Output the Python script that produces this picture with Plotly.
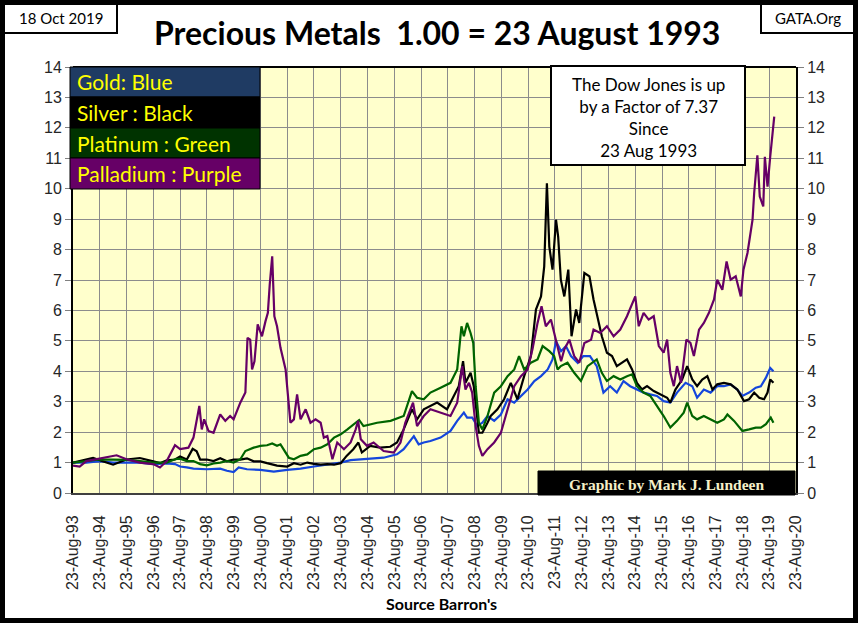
import pandas as pd
import plotly.graph_objects as go

# values, x in decimal years, y = price / price on 23 Aug 1993
gold_t = [1993.64, 1994.14, 1994.64, 1995.14, 1995.64, 1996.14, 1996.64, 1997.14, 1997.45, 1997.64,
          1997.89, 1998.14, 1998.64, 1999.14, 1999.39, 1999.64, 1999.83, 2000.14, 2000.64, 2001.14,
          2001.64, 2001.89, 2002.14, 2002.64, 2003.14, 2003.64, 2004.01, 2004.39, 2004.74, 2005.24,
          2005.74, 2005.99, 2006.37, 2006.55, 2006.74, 2006.99, 2007.37, 2007.74, 2007.99, 2008.24,
          2008.36, 2008.55, 2008.74, 2008.93, 2009.12, 2009.37, 2009.62, 2009.87, 2010.12, 2010.37,
          2010.62, 2010.87, 2011.12, 2011.37, 2011.55, 2011.68, 2011.87, 2012.05, 2012.24, 2012.49,
          2012.7, 2012.95, 2013.2, 2013.45, 2013.7, 2013.95, 2014.2, 2014.45, 2014.7, 2014.95,
          2015.2, 2015.45, 2015.7, 2015.95, 2016.2, 2016.52, 2016.77, 2016.95, 2017.2, 2017.45,
          2017.7, 2017.95, 2018.2, 2018.45, 2018.64, 2018.89, 2019.14, 2019.33, 2019.52, 2019.68,
          2019.8]
gold_v = [1.0, 1.0, 1.05, 1.0, 1.0, 1.0, 0.95, 0.97, 0.95, 0.87,
          0.84, 0.80, 0.78, 0.80, 0.73, 0.69, 0.84, 0.78, 0.76, 0.70,
          0.76, 0.78, 0.80, 0.87, 0.93, 1.0, 1.08, 1.11, 1.13, 1.16,
          1.27, 1.44, 1.87, 1.60, 1.66, 1.71, 1.82, 2.04, 2.37, 2.64,
          2.48, 2.48, 2.20, 2.31, 2.53, 2.37, 2.58, 3.08, 2.97, 3.19,
          3.40, 3.68, 3.84, 4.06, 4.39, 4.99, 4.66, 4.83, 4.50, 4.28,
          4.50, 4.50, 4.17, 3.30, 3.51, 3.30, 3.68, 3.51, 3.40, 3.30,
          3.24, 3.19, 3.02, 2.97, 3.30, 3.62, 3.51, 3.13, 3.40, 3.30,
          3.51, 3.51, 3.57, 3.40, 3.19, 3.30, 3.46, 3.51, 3.79, 4.11,
          4.00]

silver_t = [1993.64, 1994.14, 1994.39, 1994.89, 1995.14, 1995.64, 1996.14, 1996.64, 1996.89, 1997.14,
            1997.45, 1997.64, 1997.89, 1998.11, 1998.26, 1998.39, 1998.64, 1998.89, 1999.14, 1999.39,
            1999.64, 1999.89, 2000.14, 2000.39, 2000.64, 2000.89, 2001.26, 2001.64, 2001.89, 2002.14,
            2002.39, 2002.64, 2002.89, 2003.14, 2003.39, 2003.64, 2003.86, 2004.11, 2004.3, 2004.43,
            2004.74, 2005.11, 2005.49, 2005.74, 2005.99, 2006.3, 2006.49, 2006.74, 2006.99, 2007.24,
            2007.61, 2007.86, 2008.05, 2008.21, 2008.3, 2008.49, 2008.61, 2008.8, 2008.93, 2009.12,
            2009.24, 2009.49, 2009.74, 2009.99, 2010.24, 2010.49, 2010.74, 2010.93, 2011.12, 2011.24,
            2011.34, 2011.43, 2011.55, 2011.68, 2011.76, 2011.86, 2011.99, 2012.14, 2012.26, 2012.43,
            2012.55, 2012.74, 2012.93, 2013.08, 2013.2, 2013.39, 2013.58, 2013.77, 2013.95, 2014.14,
            2014.33, 2014.52, 2014.7, 2014.89, 2015.08, 2015.33, 2015.58, 2015.83, 2015.95, 2016.14,
            2016.39, 2016.58, 2016.77, 2016.95, 2017.14, 2017.33, 2017.52, 2017.7, 2017.95, 2018.2,
            2018.45, 2018.7, 2018.89, 2019.08, 2019.27, 2019.45, 2019.58, 2019.68, 2019.8]
silver_v = [1.0, 1.10, 1.15, 1.0, 0.93, 1.10, 1.15, 1.04, 0.98, 1.07,
            1.10, 1.20, 1.10, 1.45, 1.37, 1.10, 1.10, 1.05, 1.14, 1.04,
            1.10, 1.10, 1.14, 1.04, 1.04, 0.98, 0.90, 0.87, 0.98, 0.93,
            1.0, 0.96, 0.93, 0.95, 0.93, 0.98, 1.22, 1.44, 1.66, 1.33,
            1.55, 1.49, 1.52, 1.66, 2.09, 2.75, 2.42, 2.75, 2.86, 2.97,
            2.75, 3.19, 3.51, 4.33, 3.62, 3.95, 3.51, 1.98, 1.98, 2.31,
            2.53, 2.75, 3.08, 3.62, 3.08, 3.84, 4.50, 6.03, 6.46, 7.45,
            10.18, 8.10, 7.34, 8.98, 8.43, 7.01, 6.46, 7.34, 5.15, 6.03,
            5.59, 7.23, 7.12, 6.36, 5.92, 5.15, 4.61, 4.50, 4.17, 4.28,
            4.39, 4.06, 3.62, 3.40, 3.51, 3.35, 3.24, 3.13, 2.97, 3.40,
            3.73, 4.17, 3.73, 3.51, 3.73, 3.84, 3.40, 3.57, 3.62, 3.57,
            3.40, 3.02, 3.08, 3.30, 3.13, 3.08, 3.30, 3.73, 3.62]

platinum_t = [1993.64, 1994.14, 1994.64, 1995.14, 1995.64, 1996.14, 1996.64, 1997.14, 1997.45, 1997.64,
              1997.89, 1998.14, 1998.39, 1998.64, 1998.89, 1999.14, 1999.39, 1999.64, 1999.89, 2000.08,
              2000.39, 2000.64, 2000.89, 2001.08, 2001.26, 2001.39, 2001.51, 2001.7, 2001.89, 2002.14,
              2002.39, 2002.64, 2002.89, 2003.14, 2003.39, 2003.64, 2003.89, 2004.14, 2004.33, 2004.49,
              2005.0, 2005.5, 2005.99, 2006.3, 2006.49, 2006.74, 2006.99, 2007.37, 2007.74, 2007.99,
              2008.15, 2008.24, 2008.36, 2008.49, 2008.59, 2008.68, 2008.8, 2008.93, 2009.12, 2009.37,
              2009.62, 2009.87, 2010.12, 2010.3, 2010.49, 2010.74, 2010.99, 2011.18, 2011.43, 2011.61,
              2011.74, 2011.86, 2012.11, 2012.36, 2012.61, 2012.86, 2013.2, 2013.39, 2013.58, 2013.83,
              2014.08, 2014.33, 2014.52, 2014.7, 2014.95, 2015.2, 2015.45, 2015.7, 2015.95, 2016.2,
              2016.45, 2016.58, 2016.77, 2016.95, 2017.2, 2017.45, 2017.7, 2017.95, 2018.08, 2018.33,
              2018.64, 2018.89, 2019.14, 2019.33, 2019.52, 2019.7, 2019.8]
platinum_v = [1.0, 1.05, 1.10, 1.10, 1.09, 1.05, 1.0, 1.0, 1.11, 1.13,
              1.05, 1.05, 0.95, 0.91, 0.97, 1.0, 1.05, 1.0, 1.11, 1.38,
              1.49, 1.55, 1.57, 1.63, 1.55, 1.60, 1.44, 1.16, 1.11, 1.22,
              1.27, 1.44, 1.49, 1.60, 1.82, 1.93, 2.09, 2.26, 2.40, 2.20,
              2.31, 2.37, 2.53, 3.35, 3.13, 3.08, 3.30, 3.46, 3.62, 4.06,
              5.48, 5.15, 5.59, 5.26, 4.93, 3.51, 2.31, 2.09, 2.53, 3.30,
              3.51, 3.84, 4.06, 4.50, 4.06, 4.28, 4.39, 4.83, 4.66, 4.50,
              4.06, 4.17, 4.28, 3.95, 3.68, 4.17, 4.39, 3.95, 3.68, 3.84,
              3.73, 3.84, 3.90, 3.51, 3.30, 3.19, 2.86, 2.53, 2.15, 2.37,
              2.64, 2.97, 2.53, 2.42, 2.53, 2.42, 2.31, 2.42, 2.58, 2.37,
              2.04, 2.09, 2.15, 2.15, 2.26, 2.48, 2.31]

palladium_t = [1993.64, 1993.89, 1994.14, 1994.64, 1995.27, 1995.64, 1996.14, 1996.64, 1996.89, 1997.14,
               1997.45, 1997.64, 1997.95, 1998.14, 1998.36, 1998.45, 1998.54, 1998.7, 1998.89, 1999.14,
               1999.33, 1999.51, 1999.64, 1999.89, 2000.08, 2000.16, 2000.26, 2000.33, 2000.42, 2000.54,
               2000.7, 2000.83, 2000.92, 2000.99, 2001.08, 2001.16, 2001.26, 2001.39, 2001.58, 2001.76,
               2001.89, 2002.01, 2002.14, 2002.33, 2002.51, 2002.7, 2002.89, 2003.01, 2003.14, 2003.33,
               2003.51, 2003.76, 2004.01, 2004.2, 2004.29, 2004.39, 2004.62, 2004.87, 2005.24, 2005.62,
               2005.87, 2006.05, 2006.34, 2006.49, 2006.74, 2006.99, 2007.37, 2007.74, 2007.99, 2008.18,
               2008.3, 2008.43, 2008.55, 2008.68, 2008.8, 2008.93, 2009.12, 2009.37, 2009.62, 2009.87,
               2010.12, 2010.37, 2010.62, 2010.8, 2010.99, 2011.14, 2011.3, 2011.49, 2011.68, 2011.87,
               2011.99, 2012.18, 2012.36, 2012.55, 2012.74, 2012.99, 2013.08, 2013.33, 2013.58, 2013.83,
               2014.08, 2014.33, 2014.64, 2014.77, 2014.95, 2015.14, 2015.33, 2015.52, 2015.7, 2015.83,
               2015.95, 2016.08, 2016.2, 2016.35, 2016.55, 2016.7, 2016.83, 2017.02, 2017.2, 2017.39,
               2017.58, 2017.7, 2017.89, 2018.05, 2018.2, 2018.39, 2018.58, 2018.68, 2018.83, 2019.02,
               2019.08, 2019.2, 2019.29, 2019.42, 2019.48, 2019.58, 2019.68, 2019.77, 2019.83]
palladium_v = [0.90, 0.87, 1.05, 1.13, 1.24, 1.11, 1.0, 0.95, 0.84, 1.05,
               1.57, 1.44, 1.49, 1.82, 2.86, 2.09, 2.42, 2.04, 1.98, 2.58,
               2.37, 2.53, 2.42, 2.97, 3.30, 5.10, 5.04, 4.06, 4.33, 5.54,
               5.15, 5.64, 5.92, 6.85, 7.78, 5.81, 5.48, 4.77, 4.06, 2.31,
               2.42, 3.24, 2.42, 2.75, 2.31, 2.42, 2.31, 1.82, 1.87, 1.11,
               1.66, 1.44, 1.66, 2.09, 2.37, 1.77, 1.55, 1.66, 1.38, 1.33,
               1.66, 2.31, 2.97, 2.20, 2.53, 2.75, 2.64, 2.53, 2.97, 4.17,
               3.40, 3.62, 3.30, 2.20, 1.55, 1.22, 1.44, 1.66, 1.98, 2.75,
               3.51, 3.84, 4.06, 4.72, 5.59, 6.14, 5.48, 5.70, 5.04, 4.33,
               4.72, 5.04, 4.50, 4.28, 4.93, 5.04, 5.37, 5.26, 5.48, 5.15,
               5.37, 5.81, 6.46, 5.48, 5.92, 5.70, 5.81, 4.83, 4.61, 5.04,
               3.95, 3.51, 4.17, 3.62, 5.04, 4.93, 4.50, 5.37, 5.59, 5.92,
               6.36, 7.01, 6.68, 7.61, 7.01, 7.12, 6.46, 7.34, 7.89, 8.98,
               9.85, 11.10, 9.74, 9.42, 11.05, 10.07, 11.05, 11.93, 12.37]

tick_years = list(range(1993, 2021))
y_ticks = list(range(0, 15))


def to_dates(years):
    out = []
    for y in years:
        yr = int(y)
        out.append(pd.Timestamp(yr, 1, 1) + pd.Timedelta(days=(y - yr) * 365.25))
    return out


# plot area in pixels: x 73..796, y 67..493
L, R, T, B = 73, 796, 67, 493
W, H = 858, 623


def px(x):
    return (x - L) / (R - L)


def py(y):
    return (B - y) / (B - T)


font_c = "Lato, 'Open Sans', sans-serif"
font_a = "'Liberation Sans', Arial, sans-serif"

fig = go.Figure()
series = [
    ("Gold", gold_t, gold_v, "#1446DC"),
    ("Silver", silver_t, silver_v, "#000000"),
    ("Platinum", platinum_t, platinum_v, "#006400"),
    ("Palladium", palladium_t, palladium_v, "#660066"),
]
for name, t, v, c in series:
    fig.add_trace(go.Scatter(x=to_dates(t), y=v, mode="lines", name=name,
                             line=dict(color=c, width=2.2), showlegend=False))

# invisible copy on the right-hand axis so its tick labels are drawn
fig.add_trace(go.Scatter(x=to_dates(gold_t), y=gold_v, yaxis="y2", mode="lines",
                         line=dict(width=0), opacity=0, showlegend=False, hoverinfo="skip"))

tickvals = [pd.Timestamp(y, 8, 23) for y in tick_years]
ticktext = ["23-Aug-%02d" % (y % 100) for y in tick_years]

fig.update_layout(
    width=W, height=H,
    margin=dict(l=L, r=W - R, t=T, b=H - B, autoexpand=False),
    paper_bgcolor="white",
    plot_bgcolor="#FFFFCC",
    xaxis=dict(
        range=[tickvals[0], tickvals[-1]],
        tickvals=tickvals, ticktext=ticktext, tickangle=-90,
        showgrid=True, gridcolor="#8C8C8C", gridwidth=1.2,
        showline=True, linecolor="#404040", linewidth=2, mirror=False,
        ticks="", ticklabelstandoff=14,
        tickfont=dict(family=font_a, size=16, color="#262626"),
    ),
    yaxis=dict(
        range=[0, 14], tickvals=y_ticks,
        showgrid=True, gridcolor="#8C8C8C", gridwidth=1.2,
        showline=True, linecolor="#000000", linewidth=2,
        ticks="outside", ticklen=6, tickcolor="#808080",
        tickfont=dict(family=font_a, size=16, color="#262626"),
        zeroline=False,
    ),
    yaxis2=dict(
        range=[0, 14], tickvals=y_ticks, overlaying="y", side="right",
        showgrid=False, showline=True, linecolor="#000000", linewidth=2,
        ticks="outside", ticklen=6, tickcolor="#808080",
        tickfont=dict(family=font_a, size=16, color="#262626"),
        zeroline=False,
    ),
)

shapes = []
annots = []


def note(text, x, y, size, color="black", family=font_c, xanchor="center"):
    annots.append(dict(text=text, xref="paper", yref="paper", x=px(x), y=py(y),
                       xanchor=xanchor, yanchor="middle", showarrow=False,
                       font=dict(family=family, size=size, color=color)))


# top border of plot
shapes.append(dict(type="line", xref="paper", yref="paper", x0=0, x1=1, y0=1, y1=1,
                   line=dict(color="black", width=2)))

# outer frame
shapes.append(dict(type="rect", xref="paper", yref="paper",
                   x0=px(2.5), x1=px(855.5), y0=py(2.5), y1=py(620.5),
                   line=dict(color="black", width=5)))

# corner boxes
for (x0, x1, txt) in [(4, 117, "18 Oct 2019"), (761, 854, "GATA.Org")]:
    shapes.append(dict(type="rect", xref="paper", yref="paper",
                       x0=px(x0), x1=px(x1), y0=py(4), y1=py(33),
                       fillcolor="white", line=dict(color="black", width=2)))
    note(txt, (x0 + x1) / 2, 18.5, 15)

note("<b>Precious Metals  1.00 = 23 August 1993</b>", 437, 33, 32)

# legend panel
rows = [("Gold: Blue", "#1F3B63", 67, 97), ("Silver : Black", "#000000", 97, 128),
        ("Platinum : Green", "#003300", 128, 158), ("Palladium : Purple", "#660066", 158, 189)]
for txt, col, y0, y1 in rows:
    shapes.append(dict(type="rect", xref="paper", yref="paper",
                       x0=px(70), x1=px(260), y0=py(y0), y1=py(y1),
                       fillcolor=col, line=dict(color="black", width=1)))
    note(txt, 75, (y0 + y1) / 2, 21, color="#FFFF00", xanchor="left")

# Dow Jones box
shapes.append(dict(type="rect", xref="paper", yref="paper",
                   x0=px(551), x1=px(745), y0=py(66), y1=py(165),
                   fillcolor="white", line=dict(color="black", width=2)))
note("The Dow Jones is up<br>by a Factor of 7.37<br>Since<br>23 Aug 1993", 648, 117, 17)

# credit box
shapes.append(dict(type="rect", xref="paper", yref="paper",
                   x0=px(538), x1=px(795), y0=py(471), y1=py(495),
                   fillcolor="black", line=dict(color="black", width=1)))
note("<b>Graphic by Mark J. Lundeen</b>", 666, 484, 15.5, color="#F5F0C8",
     family="'Liberation Serif', 'DejaVu Serif', serif")

note("<b>Source Barron's</b>", 441, 603, 16)

fig.update_layout(shapes=shapes, annotations=annots)

fig.write_html("out.html", config={"displayModeBar": False},
               post_script="document.body.style.margin='0';")
